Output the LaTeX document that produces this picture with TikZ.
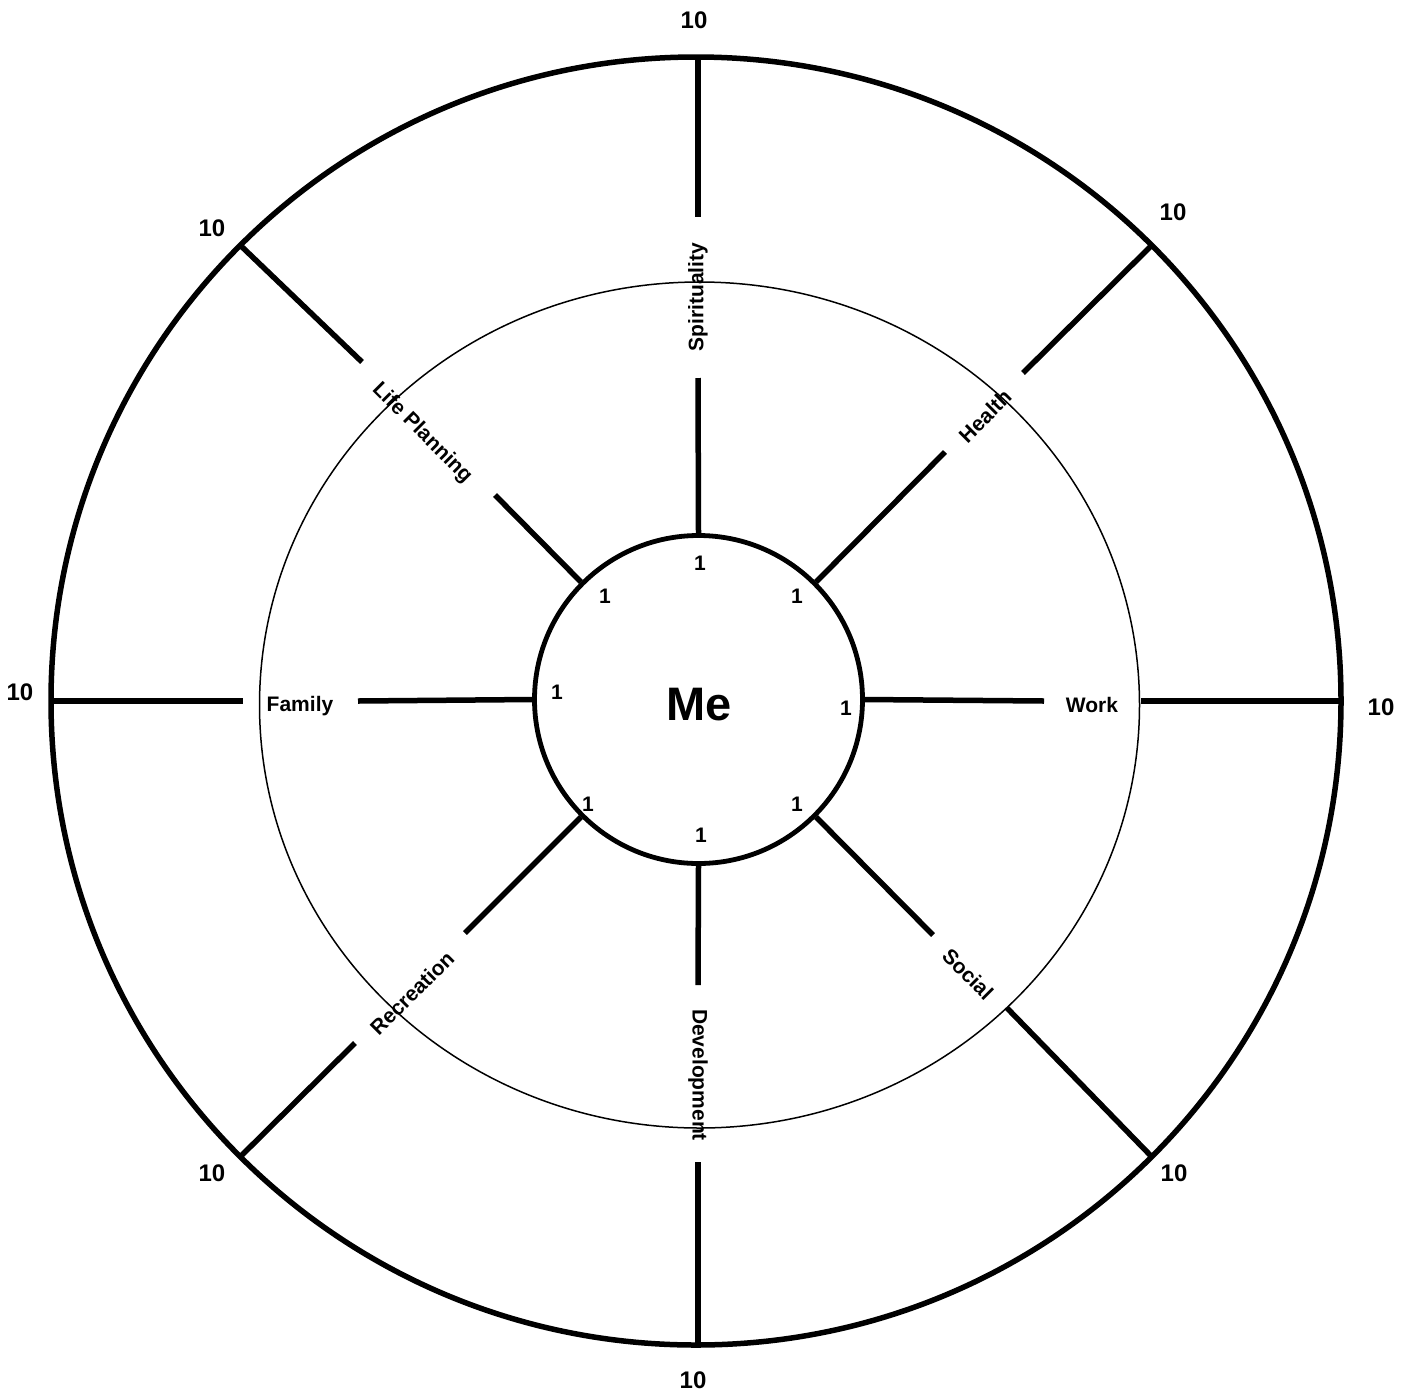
\documentclass[tikz,border=0pt]{standalone}
\usepackage{fontspec}
\setmainfont{Liberation Sans}
\begin{document}
\begin{tikzpicture}[x=1pt,y=-1pt,
  spoke/.style={line width=5.5pt},
  lab/.style={font=\fontsize{21}{21}\selectfont\bfseries, inner sep=0pt},
  ten/.style={font=\fontsize{24}{24}\selectfont\bfseries, inner sep=0pt},
  one/.style={font=\fontsize{21}{21}\selectfont\bfseries, inner sep=0pt}]
\path[use as bounding box] (0,0) rectangle (1413,1395);
% outer and middle rings
\draw[line width=5.5pt] (696,701) circle [x radius=645pt, y radius=644pt];
\draw[line width=1.5pt] (699.5,705) circle [x radius=440pt, y radius=423pt];
% hub
\node[draw, circle, line width=4.8pt, minimum size=328pt, inner sep=0pt] (hub) at (698.5,699.5) {};
\node[font=\fontsize{47}{47}\selectfont\bfseries, inner sep=0pt] (me) at (699,705) {Me};
% spoke end coordinates
\coordinate (nO) at (698,58);    \coordinate (nA) at (698,217);  \coordinate (nB) at (698,378);
\coordinate (neO) at (1152,245); \coordinate (neA) at (1023,373); \coordinate (neB) at (945,452);
\coordinate (eO) at (1341,701);  \coordinate (eA) at (1141,701); \coordinate (eB) at (1044,701);
\coordinate (seO) at (1152,1157);\coordinate (seA) at (1007,1008);\coordinate (seB) at (933,935);
\coordinate (sO) at (698,1345);  \coordinate (sA) at (698,1162); \coordinate (sB) at (698,985);
\coordinate (swO) at (240,1157); \coordinate (swA) at (355,1043); \coordinate (swB) at (465,933);
\coordinate (wO) at (51,701);    \coordinate (wA) at (243,701);  \coordinate (wB) at (358,701);
\coordinate (nwO) at (240,245);  \coordinate (nwA) at (362,362); \coordinate (nwB) at (495,495);
% spokes
\draw[spoke] (nO) -- (nA);   \draw[spoke] (nB) -- (hub.90);
\draw[spoke] (neO) -- (neA); \draw[spoke] (neB) -- (hub.45);
\draw[spoke] (eO) -- (eA);   \draw[spoke] (eB) -- (hub.0);
\draw[spoke] (seO) -- (seA); \draw[spoke] (seB) -- (hub.-45);
\draw[spoke] (sO) -- (sA);   \draw[spoke] (sB) -- (hub.-90);
\draw[spoke] (swO) -- (swA); \draw[spoke] (swB) -- (hub.-135);
\draw[spoke] (wO) -- (wA);   \draw[spoke] (wB) -- (hub.180);
\draw[spoke] (nwO) -- (nwA); \draw[spoke] (nwB) -- (hub.135);
% category labels
\node[lab, rotate=90]  (spir) at (698,297)  {Spirituality};
\node[lab, rotate=45]  (heal) at (985,416)  {Health};
\node[lab]             (work) at (1092,705) {Work};
\node[lab, rotate=-45] (soc)  at (968,974)  {Social};
\node[lab, rotate=-90] (dev)  at (698,1075) {Development};
\node[lab, rotate=45]  (rec)  at (412,993)  {Recreation};
\node[lab]             (fam)  at (300,706)  {Family};
\node[lab, rotate=-45] (life) at (422,433)  {Life Planning};
% outer scale labels
\node[ten] (t1) at (694,20)    {10};
\node[ten] (t2) at (1173,212)  {10};
\node[ten] (t3) at (1381,707)  {10};
\node[ten] (t4) at (1174,1173) {10};
\node[ten] (t5) at (693,1380)  {10};
\node[ten] (t6) at (212,1173)  {10};
\node[ten] (t7) at (20,692)    {10};
\node[ten] (t8) at (212,228)   {10};
% inner scale labels
\node[one] (o1) at (700,563) {1};
\node[one] (o2) at (797,596) {1};
\node[one] (o3) at (846,708) {1};
\node[one] (o4) at (797,804) {1};
\node[one] (o5) at (701,835) {1};
\node[one] (o6) at (588,804) {1};
\node[one] (o7) at (557,692) {1};
\node[one] (o8) at (605,596) {1};
\end{tikzpicture}
\end{document}
